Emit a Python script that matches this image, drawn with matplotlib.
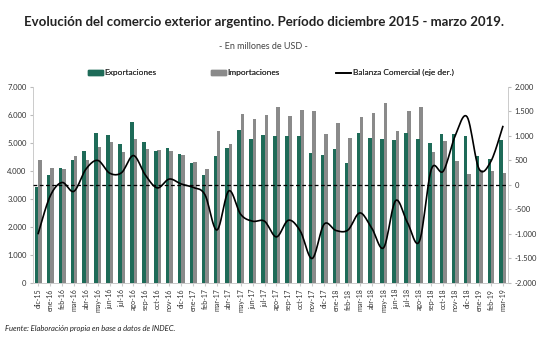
import numpy as np
import matplotlib
matplotlib.use('Agg')
import matplotlib.pyplot as plt
from matplotlib.ticker import FuncFormatter
from matplotlib.patches import Patch
from matplotlib.lines import Line2D

plt.rcParams['font.family'] = ['Lato', 'DejaVu Sans']

# months dic-15 .. mar-19
meses = ['dic-15', 'ene-16', 'feb-16', 'mar-16', 'abr-16', 'may-16', 'jun-16', 'jul-16',
         'ago-16', 'sep-16', 'oct-16', 'nov-16', 'dic-16', 'ene-17', 'feb-17', 'mar-17',
         'abr-17', 'may-17', 'jun-17', 'jul-17', 'ago-17', 'sep-17', 'oct-17', 'nov-17',
         'dic-17', 'ene-18', 'feb-18', 'mar-18', 'abr-18', 'may-18', 'jun-18', 'jul-18',
         'ago-18', 'sep-18', 'oct-18', 'nov-18', 'dic-18', 'ene-19', 'feb-19', 'mar-19']

exportaciones = [3415, 3850, 4120, 4400, 4720, 5360, 5265, 4960, 5750, 5030,
                 4700, 4820, 4600, 4280, 3860, 4535, 4830, 5465, 5125, 5265,
                 5230, 5230, 5250, 4640, 4560, 4770, 4280, 5360, 5190, 5135,
                 5100, 5360, 5150, 4995, 5325, 5325, 5255, 4545, 4430, 5100]

importaciones = [4380, 4100, 4060, 4520, 4400, 4850, 5020, 4690, 5150, 4770,
                 4760, 4700, 4570, 4320, 4075, 5440, 4950, 6040, 5850, 6010,
                 6290, 5960, 6180, 6140, 5335, 5700, 5160, 5925, 6080, 6410,
                 5420, 6125, 6280, 4675, 5055, 4345, 3875, 4040, 3980, 3910]

balanza = [-990, -230, 50, -130, 320, 500, 240, 250, 600, 200,
           -60, 120, 20, -50, -200, -920, -120, -600, -740, -740,
           -1060, -720, -940, -1500, -800, -930, -920, -570, -880, -1280,
           -320, -770, -1150, 320, 280, 1000, 1390, 330, 480, 1190]

VERDE = '#1e6b58'
GRIS = '#8a8a8a'


# smoothed line like excel (catmull-rom through the monthly points)
def suavizar(y, n=12):
    y = np.asarray(y, dtype=float)
    x = np.arange(len(y), dtype=float)
    px = np.concatenate([[x[0]], x, [x[-1]]])
    py = np.concatenate([[y[0]], y, [y[-1]]])
    xs, ys = [], []
    t = np.linspace(0, 1, n, endpoint=False)
    for i in range(1, len(px) - 2):
        p0, p1, p2, p3 = px[i-1], px[i], px[i+1], px[i+2]
        q0, q1, q2, q3 = py[i-1], py[i], py[i+1], py[i+2]
        c1x, c1y = p1 + (p2 - p0) / 6, q1 + (q2 - q0) / 6
        c2x, c2y = p2 - (p3 - p1) / 6, q2 - (q3 - q1) / 6
        bx = (1-t)**3*p1 + 3*(1-t)**2*t*c1x + 3*(1-t)*t**2*c2x + t**3*p2
        by = (1-t)**3*q1 + 3*(1-t)**2*t*c1y + 3*(1-t)*t**2*c2y + t**3*q2
        xs.extend(bx)
        ys.extend(by)
    xs.append(x[-1])
    ys.append(y[-1])
    return np.array(xs), np.array(ys)


def miles(v, pos):
    return '{:,.0f}'.format(v).replace(',', '.')


fig = plt.figure(figsize=(5.47, 3.42), dpi=100)
ax = fig.add_axes([0.060, 0.1725, 0.869, 0.5735])
ax2 = ax.twinx()

x = np.arange(len(meses))
w = 0.3
ax.bar(x - 0.13, exportaciones, width=w, color=VERDE, zorder=2)
ax.bar(x + 0.15, importaciones, width=w, color=GRIS, zorder=1)

ax.set_xlim(-0.45, len(meses) - 0.55)
ax.set_ylim(0, 7000)
ax.set_yticks(range(0, 7001, 1000))
ax.yaxis.set_major_formatter(FuncFormatter(miles))
ax.set_xticks(x)
ax.set_xticklabels(meses, rotation=90, fontsize=5)

ax2.set_ylim(-2000, 2000)
ax2.set_yticks(range(-2000, 2001, 500))
ax2.yaxis.set_major_formatter(FuncFormatter(miles))
ax2.axhline(0, color='black', lw=0.9, ls=(0, (3, 2)), zorder=3)
sx, sy = suavizar(balanza)
ax2.plot(sx, sy, color='black', lw=1.2, zorder=4)

for a in (ax, ax2):
    a.tick_params(axis='y', labelsize=5.5, length=2.5, color='#bbbbbb', pad=2, labelcolor='#333333')
    for s in a.spines.values():
        s.set_color('#cccccc')
        s.set_linewidth(0.7)
    a.spines['top'].set_visible(False)
ax.tick_params(axis='x', length=2, color='#cccccc', pad=2, labelcolor='#333333')

fig.text(0.482, 0.936, 'Evolución del comercio exterior argentino. Período diciembre 2015 - marzo 2019.',
         ha='center', va='center', fontsize=9.5, fontweight='bold', color='#222222')
fig.text(0.482, 0.865, '- En millones de USD -', ha='center', va='center', fontsize=6.5, color='#444444')

# legend items placed one by one
items = [(Patch(color=VERDE), 'Exportaciones', 88),
         (Patch(color=GRIS), 'Importaciones', 211),
         (Line2D([0], [0], color='black', lw=1.2), 'Balanza Comercial (eje der.)', 336)]
for h, lab, px_ in items:
    leg = fig.legend([h], [lab], loc='center left', bbox_to_anchor=(px_ / 547, 0.787),
                     frameon=False, fontsize=6, handlelength=1.8, handleheight=0.5,
                     handletextpad=0.2, borderpad=0, borderaxespad=0, labelcolor='#333333')
    fig.add_artist(leg)

fig.text(0.01, 0.04, 'Fuente: Elaboración propia en base a datos de INDEC.', ha='left', va='center',
         fontsize=5.5, style='italic', color='#222222')

fig.savefig('out.png', dpi=100)
